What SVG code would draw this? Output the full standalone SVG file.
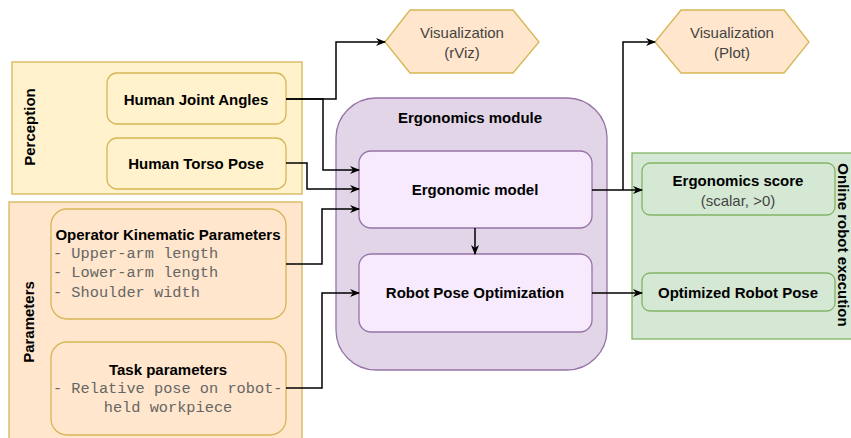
<svg xmlns="http://www.w3.org/2000/svg" width="851" height="438" viewBox="0 0 851 438">
<style>
text{font-family:"Liberation Sans",Arial,sans-serif;font-size:15px;dominant-baseline:central;text-anchor:middle;fill:#000}
.b{font-weight:bold}
.m{font-family:"Liberation Mono","Courier New",monospace;font-size:15.3px;fill:#666;text-anchor:start}
.mc{font-family:"Liberation Mono","Courier New",monospace;font-size:15.3px;fill:#666}
.g{fill:#444}
.yel{fill:#fff2cc;stroke:#d6b656;stroke-width:1.3}
.org{fill:#ffe6cc;stroke:#d6b656;stroke-width:1.3}
.pur{fill:#e1d5e7;stroke:#9673a6;stroke-width:1.3}
.lpur{fill:#f6eafc;stroke:#9673a6;stroke-width:1.3}
.grn{fill:#d5e8d4;stroke:#82b366;stroke-width:1.3}
.c{fill:none;stroke:#000;stroke-width:1.5;marker-end:url(#a)}
</style>
<defs>
<marker id="a" viewBox="0 0 10 10" refX="9" refY="5" markerWidth="10" markerHeight="10" markerUnits="userSpaceOnUse" orient="auto">
<path d="M0,1 L10,5 L0,9 L3,5 Z" fill="#000"/>
</marker>
</defs>
<rect width="851" height="438" fill="#fff"/>

<g id="perception">
<rect class="yel" x="12" y="62" width="290" height="132"/>
<text class="b" transform="translate(29,127) rotate(-90)">Perception</text>
</g>
<g id="parameters">
<rect class="org" x="9" y="202" width="293" height="250"/>
<text class="b" transform="translate(28,322) rotate(-90)">Parameters</text>
</g>
<g id="ergo-module">
<rect class="pur" x="336" y="98" width="271" height="272" rx="40"/>
<text class="b" x="470" y="117">Ergonomics module</text>
</g>
<g id="online">
<rect class="grn" x="632" y="153" width="225" height="186"/>
<text class="b" transform="translate(843,245) rotate(90)">Online robot execution</text>
</g>

<g id="joint-angles">
<rect class="yel" x="107" y="73" width="179" height="51" rx="10"/>
<text class="b" x="196" y="99">Human Joint Angles</text>
</g>
<g id="torso-pose">
<rect class="yel" x="107" y="138" width="179" height="51" rx="10"/>
<text class="b" x="196" y="163">Human Torso Pose</text>
</g>
<g id="kinematic">
<rect class="org" x="51" y="209" width="235" height="110" rx="16"/>
<text class="b" x="168" y="234">Operator Kinematic Parameters</text>
<text class="m" x="53" y="254">- Upper-arm length</text>
<text class="m" x="53" y="273">- Lower-arm length</text>
<text class="m" x="53" y="293">- Shoulder width</text>
</g>
<g id="task">
<rect class="org" x="51" y="342" width="235" height="93" rx="16"/>
<text class="b" x="168" y="369">Task parameters</text>
<text class="m" x="53" y="389">- Relative pose on robot-</text>
<text class="mc" x="168" y="408">held workpiece</text>
</g>
<g id="viz-rviz">
<polygon class="org" points="385,42 410,10 513,10 539,42 513,73 410,73"/>
<text class="g" x="462" y="32">Visualization</text>
<text class="g" x="462" y="52">(rViz)</text>
</g>
<g id="viz-plot">
<polygon class="org" points="655,42 681,10 784,10 809,42 784,73 681,73"/>
<text class="g" x="732" y="32">Visualization</text>
<text class="g" x="732" y="52">(Plot)</text>
</g>
<g id="ergo-model">
<rect class="lpur" x="359" y="151" width="233" height="77" rx="12"/>
<text class="b" x="475" y="189">Ergonomic model</text>
</g>
<g id="pose-opt">
<rect class="lpur" x="359" y="254" width="233" height="78" rx="12"/>
<text class="b" x="475" y="292">Robot Pose Optimization</text>
</g>
<g id="ergo-score">
<rect class="grn" x="642" y="163" width="193" height="52" rx="8"/>
<text class="b" x="738" y="180">Ergonomics score</text>
<text class="g" x="738" y="200">(scalar, &gt;0)</text>
</g>
<g id="opt-pose">
<rect class="grn" x="642" y="273" width="193" height="38" rx="8"/>
<text class="b" x="738" y="292">Optimized Robot Pose</text>
</g>

<g id="connectors">
<path class="c" d="M286,99 H336 V42 H385"/>
<path class="c" d="M286,99 H323 V170 H359"/>
<path class="c" d="M286,163 H307 V189 H359"/>
<path class="c" d="M286,264 H322 V209 H359"/>
<path class="c" d="M286,388 H322 V293 H359"/>
<path class="c" d="M475,228 V254"/>
<path class="c" d="M592,190 H642"/>
<path class="c" d="M623,190 V42 H655"/>
<path class="c" d="M592,293 H642"/>
</g>
</svg>
